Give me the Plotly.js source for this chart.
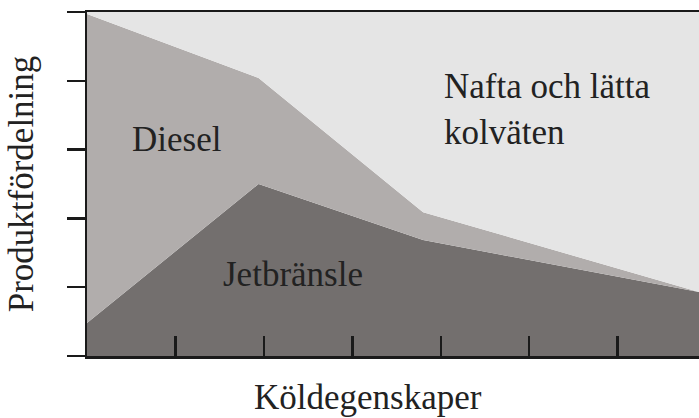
<!DOCTYPE html>
<html>
<head>
<meta charset="utf-8">
<script src="https://cdn.plot.ly/plotly-3.0.1.min.js"></script>
<style>html,body{margin:0;padding:0;background:#fff;}#chart{width:699px;height:418px;}</style>
</head>
<body>
<div id="chart"></div>
<script>
// Köldegenskaper (relative position along the x axis)
const xPoints = [0, 1.94, 3.8, 6.92];
// Stacked shares (bottom to top)
const jetbransle = [9.6, 50, 33.7, 18.6];
const diesel = [89.8, 30.8, 8.1, 0];
const nafta = [0.6, 19.2, 58.2, 81.4];
const seriesNames = ['Jetbränsle', 'Diesel', 'Nafta och lätta kolväten'];
const xTicks = [0, 1, 2, 3, 4, 5, 6];
const yTicks = [0, 20, 40, 60, 80, 100];

const colors = ['#736f6e', '#b1adac', '#e5e5e5'];
const font = 'Liberation Serif, Times New Roman, serif';
const ink = '#222';

const traces = [jetbransle, diesel, nafta].map((vals, i) => ({
  type: 'scatter', mode: 'lines', x: xPoints, y: vals, name: seriesNames[i],
  stackgroup: 'one', line: {width: 0, color: colors[i]}, fillcolor: colors[i],
  hoverinfo: 'skip'
}));

const layout = {
  width: 699, height: 418,
  margin: {l: 87, r: 0, t: 12, b: 62},
  paper_bgcolor: '#fff', plot_bgcolor: '#fff',
  showlegend: false,
  font: {family: font, color: ink},
  xaxis: {
    range: [0, 6.92], tickvals: xTicks, showticklabels: false,
    ticks: 'inside', ticklen: 20, tickwidth: 2.5, tickcolor: '#1a1a1a',
    showline: true, linewidth: 2.5, linecolor: '#1a1a1a', mirror: true,
    showgrid: false, zeroline: false
  },
  yaxis: {
    range: [0, 100], tickvals: yTicks, showticklabels: false,
    ticks: 'outside', ticklen: 18, tickwidth: 2.5, tickcolor: '#1a1a1a',
    showline: true, linewidth: 2.5, linecolor: '#1a1a1a',
    showgrid: false, zeroline: false,
    title: {text: 'Produktfördelning', font: {size: 35, family: font, color: ink}, standoff: 23}
  },
  annotations: [
    {text: 'Köldegenskaper', xref: 'paper', yref: 'paper', x: 0.459, y: -0.12,
     xanchor: 'center', yanchor: 'middle', showarrow: false,
     font: {size: 35, family: font, color: ink}},
    {text: 'Diesel', xref: 'paper', yref: 'paper', x: 0.147, y: 0.628,
     xanchor: 'center', yanchor: 'middle', showarrow: false,
     font: {size: 35, family: font, color: ink}},
    {text: 'Jetbränsle', xref: 'paper', yref: 'paper', x: 0.336, y: 0.238,
     xanchor: 'center', yanchor: 'middle', showarrow: false,
     font: {size: 35, family: font, color: ink}},
    {text: 'Nafta och lätta<br>kolväten', xref: 'paper', yref: 'paper', x: 0.580, y: 0.718,
     xanchor: 'left', yanchor: 'middle', align: 'left', showarrow: false,
     font: {size: 35, family: font, color: ink}}
  ]
};

Plotly.newPlot('chart', traces, layout, {staticPlot: true, displayModeBar: false});
</script>
</body>
</html>
